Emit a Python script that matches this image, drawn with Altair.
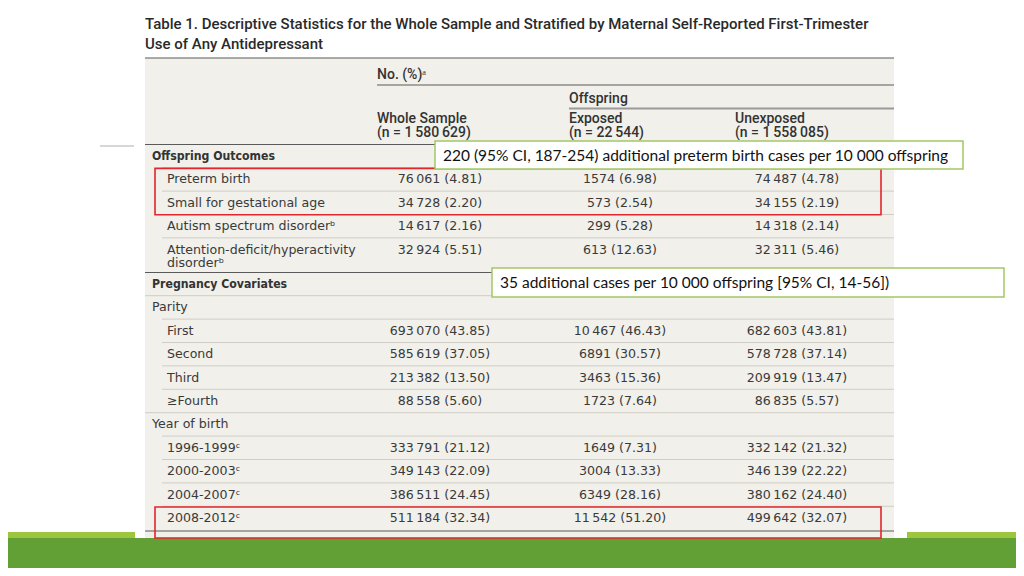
import altair as alt
import pandas as pd

# ---------------- data ----------------
title_lines = [
    "Table 1. Descriptive Statistics for the Whole Sample and Stratified by Maternal Self-Reported First-Trimester",
    "Use of Any Antidepressant",
]
col_headers = ["Whole Sample", "Exposed", "Unexposed"]
col_ns = [1580629, 22544, 1558085]

row_labels = [
    "Offspring Outcomes", "Preterm birth", "Small for gestational age",
    "Autism spectrum disorder\u1d47", "Attention-deficit/hyperactivity\ndisorder\u1d47",
    "Pregnancy Covariates", "Parity", "First", "Second", "Third", "\u2265Fourth",
    "Year of birth", "1996-1999\u1d9c", "2000-2003\u1d9c", "2004-2007\u1d9c", "2008-2012\u1d9c",
]
row_kind = ["section", "item", "item", "item", "item",
            "section", "group", "item", "item", "item", "item",
            "group", "item", "item", "item", "item"]

whole_n = [None, 76061, 34728, 14617, 32924, None, None, 693070, 585619, 213382, 88558,
           None, 333791, 349143, 386511, 511184]
whole_pct = [None, 4.81, 2.20, 2.16, 5.51, None, None, 43.85, 37.05, 13.50, 5.60,
             None, 21.12, 22.09, 24.45, 32.34]
exp_n = [None, 1574, 573, 299, 613, None, None, 10467, 6891, 3463, 1723,
         None, 1649, 3004, 6349, 11542]
exp_pct = [None, 6.98, 2.54, 5.28, 12.63, None, None, 46.43, 30.57, 15.36, 7.64,
           None, 7.31, 13.33, 28.16, 51.20]
unexp_n = [None, 74487, 34155, 14318, 32311, None, None, 682603, 578728, 209919, 86835,
           None, 332142, 346139, 380162, 499642]
unexp_pct = [None, 4.78, 2.19, 2.14, 5.46, None, None, 43.81, 37.14, 13.47, 5.57,
             None, 21.32, 22.22, 24.40, 32.07]

notes = [
    "220 (95% CI, 187-254) additional preterm birth cases per 10\u00a0000 offspring",
    "35 additional cases per 10\u00a0000 offspring [95% CI, 14-56])",
]
highlight_rows = [[1, 2], [15]]

# ---------------- layout helpers ----------------
TS = "\u2009"


def fmt_n(n):
    if n >= 10000:
        return f"{n:,}".replace(",", TS)
    return str(n)


def row_y(i):
    return 156 + i * 23.4 + (11 if i >= 5 else 0)


xs = alt.Scale(domain=[8, 1016], nice=False, zero=False)
ys = alt.Scale(domain=[8, 568], nice=False, zero=False, reverse=True)


def X(f="x"):
    return alt.X(f"{f}:Q", scale=xs, axis=None)


def Y(f="y"):
    return alt.Y(f"{f}:Q", scale=ys, axis=None)


# background rectangles
bg = pd.DataFrame([
    dict(x=8, x2=1016, y=532, y2=540, c="#9cc63e"),
    dict(x=135, x2=907, y=520, y2=540, c="#ffffff"),
    dict(x=145, x2=894, y=58, y2=538, c="#f1f0ea"),
    dict(x=8, x2=1016, y=538, y2=568, c="#62a035"),
])
bg_layer = alt.Chart(bg).mark_rect().encode(
    x=X(), x2="x2", y=Y(), y2="y2", color=alt.Color("c:N", scale=None))

# rules
rules = []
dark, light = "#5a5a5a", "#cfcdc6"
rules.append(dict(x=100, x2=134, y=146, c="#b0b0b0", w=1.2))
rules.append(dict(x=145, x2=894, y=58, c=dark, w=1.2))
rules.append(dict(x=377, x2=894, y=85, c=dark, w=1.2))
rules.append(dict(x=569, x2=894, y=108.5, c="#9a9a9a", w=2))
rules.append(dict(x=145, x2=894, y=144.5, c=dark, w=1.2))
for i in range(len(row_labels) - 1):
    ybound = (row_y(i) + row_y(i + 1)) / 2 if i != 4 else row_y(5) - 11.5
    nxt = row_kind[i + 1]
    if i == 4:
        rules.append(dict(x=145, x2=894, y=ybound, c=dark, w=1.2))
    else:
        rules.append(dict(x=162 if nxt == "item" else 145, x2=894, y=ybound, c=light, w=1))
rules.append(dict(x=145, x2=894, y=531, c=dark, w=1.2))
rules_df = pd.DataFrame(rules)
rule_layer = alt.Chart(rules_df).mark_rule().encode(
    x=X(), x2="x2", y=Y(),
    color=alt.Color("c:N", scale=None),
    strokeWidth=alt.StrokeWidth("w:Q", scale=None))

# title
title_df = pd.DataFrame([dict(x=145, y=24 + 20 * k, t=s) for k, s in enumerate(title_lines)])
title_layer = alt.Chart(title_df).mark_text(
    align="left", baseline="middle", font="Roboto",
    fontSize=15, fontWeight=500, color="#2a2a2a").encode(x=X(), y=Y(), text="t:N")

# column headers
col_x = [377, 569, 735]
hdr = [dict(x=377, y=75, t="No. (%)\u1d43"), dict(x=569, y=99, t="Offspring")]
for cx, h, n in zip(col_x, col_headers, col_ns):
    hdr.append(dict(x=cx, y=119, t=h))
    hdr.append(dict(x=cx, y=133, t=f"(n = {n:,})".replace(",", TS)))
hdr_layer = alt.Chart(pd.DataFrame(hdr)).mark_text(
    align="left", baseline="middle", font="Roboto",
    fontSize=14, fontWeight=500, color="#333333").encode(x=X(), y=Y(), text="t:N")

# row labels
lab_reg, lab_bold = [], []
for i, (lab, kind) in enumerate(zip(row_labels, row_kind)):
    for k, part in enumerate(lab.split("\n")):
        rec = dict(x=152 if kind != "item" else 167, y=row_y(i) + 13.5 * k, t=part)
        (lab_bold if kind == "section" else lab_reg).append(rec)
lab_layer = alt.Chart(pd.DataFrame(lab_reg)).mark_text(
    align="left", baseline="middle", font="DejaVu Sans", fontSize=12.6,
    color="#3a3a3a").encode(x=X(), y=Y(), text="t:N")
bold_layer = alt.Chart(pd.DataFrame(lab_bold)).mark_text(
    align="left", baseline="middle", font="DejaVu Sans Condensed, DejaVu Sans", fontSize=12.2,
    fontWeight="bold", color="#333333").encode(x=X(), y=Y(), text="t:N")

# values
centers = [440, 620, 797]
vals = []
for cx, ns, ps in zip(centers, [whole_n, exp_n, unexp_n], [whole_pct, exp_pct, unexp_pct]):
    for i, (n, p) in enumerate(zip(ns, ps)):
        if n is None:
            continue
        vals.append(dict(x=cx, y=row_y(i), t=f"{fmt_n(n)} ({p:.2f})"))
val_layer = alt.Chart(pd.DataFrame(vals)).mark_text(
    align="center", baseline="middle", font="DejaVu Sans", fontSize=12.6,
    color="#3a3a3a").encode(x=X(), y=Y(), text="t:N")

# red highlight boxes
red = []
for grp in highlight_rows:
    red.append(dict(x=155, x2=881, y=row_y(grp[0]) - 11, y2=row_y(grp[-1]) + 12 + (8 if grp[-1] == 15 else 0)))
red_layer = alt.Chart(pd.DataFrame(red)).mark_rect(
    filled=False, stroke="#e3262b", strokeWidth=1.6).encode(x=X(), x2="x2", y=Y(), y2="y2")

# annotation boxes
ann = pd.DataFrame([
    dict(x=435, x2=963, y=141, y2=169, tx=443, ty=155.5, t=notes[0]),
    dict(x=492, x2=1004, y=268, y2=297, tx=500, ty=282.5, t=notes[1]),
])
ann_box = alt.Chart(ann).mark_rect(fill="white", stroke="#a3c763", strokeWidth=1.5).encode(
    x=X(), x2="x2", y=Y(), y2="y2")
ann_txt = alt.Chart(ann).mark_text(
    align="left", baseline="middle", font="Lato", fontSize=15.5, color="#111111").encode(
    x=X("tx"), y=Y("ty"), text="t:N")

chart = alt.layer(
    bg_layer, rule_layer, title_layer, hdr_layer, lab_layer, bold_layer, val_layer,
    red_layer, ann_box, ann_txt
).properties(
    width=1008, height=560, padding=0, autosize=alt.AutoSizeParams(type="none"),
    background="white"
).configure_view(stroke=None)

chart.save("out.html", embed_options={"renderer": "svg", "actions": False})
